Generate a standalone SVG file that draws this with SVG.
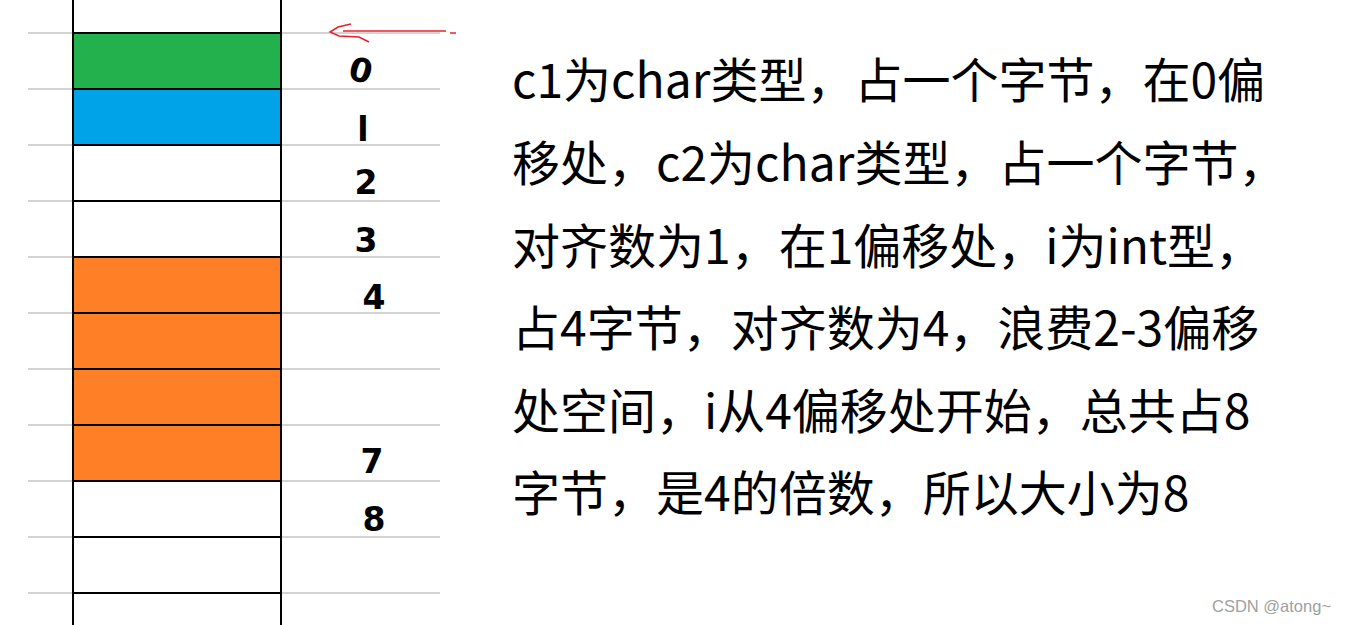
<svg xmlns="http://www.w3.org/2000/svg" width="1359" height="625" viewBox="0 0 1359 625">
<style>
.grid{stroke:#d3d3d3;stroke-width:2}
.cell{stroke:#000;stroke-width:2}
.digit{font-family:"DejaVu Sans",sans-serif;font-weight:bold;font-size:33px;fill:#000;text-anchor:middle}
.txt{font-family:"Microsoft YaHei","Noto Sans CJK SC",sans-serif;font-size:48px;fill:#000}
.wm{font-family:"Liberation Sans",Arial,sans-serif;font-size:16.5px;fill:#a0a0a0}
</style>
<rect width="1359" height="625" fill="#fff"/>
<g id="grid">
<line class="grid" x1="28" y1="33" x2="440" y2="33"/>
<line class="grid" x1="28" y1="89" x2="440" y2="89"/>
<line class="grid" x1="28" y1="145" x2="440" y2="145"/>
<line class="grid" x1="28" y1="201" x2="440" y2="201"/>
<line class="grid" x1="28" y1="257" x2="440" y2="257"/>
<line class="grid" x1="28" y1="313" x2="440" y2="313"/>
<line class="grid" x1="28" y1="369" x2="440" y2="369"/>
<line class="grid" x1="28" y1="425" x2="440" y2="425"/>
<line class="grid" x1="28" y1="481" x2="440" y2="481"/>
<line class="grid" x1="28" y1="537" x2="440" y2="537"/>
<line class="grid" x1="28" y1="593" x2="440" y2="593"/>
</g>
<g id="cells">
<rect id="c1" class="cell" x="73" y="33" width="208" height="56" fill="#22b14c"/>
<rect id="c2" class="cell" x="73" y="89" width="208" height="56" fill="#00a2e8"/>
<rect id="pad2" class="cell" x="73" y="145" width="208" height="56" fill="#fff"/>
<rect id="pad3" class="cell" x="73" y="201" width="208" height="56" fill="#fff"/>
<rect id="i4" class="cell" x="73" y="257" width="208" height="56" fill="#ff7f27"/>
<rect id="i5" class="cell" x="73" y="313" width="208" height="56" fill="#ff7f27"/>
<rect id="i6" class="cell" x="73" y="369" width="208" height="56" fill="#ff7f27"/>
<rect id="i7" class="cell" x="73" y="425" width="208" height="56" fill="#ff7f27"/>
<rect id="e8" class="cell" x="73" y="481" width="208" height="56" fill="#fff"/>
<rect id="e9" class="cell" x="73" y="537" width="208" height="56" fill="#fff"/>
<line class="cell" x1="73" y1="0" x2="73" y2="625"/>
<line class="cell" x1="281" y1="0" x2="281" y2="625"/>
</g>
<g id="connectors">
<line x1="343" y1="31" x2="446" y2="31" stroke="#e8202a" stroke-width="1.5"/>
<line x1="450" y1="33" x2="456" y2="33" stroke="#e8202a" stroke-width="1.5"/>
<polyline points="351,24 338,27 330,32 339,36 359,37 369,42" fill="none" stroke="#e8202a" stroke-width="1.5"/>
</g>
<g id="labels">
<text class="digit" x="361" y="82" transform="rotate(15 361 70)">0</text>
<text class="digit" x="363" y="141">l</text>
<text class="digit" x="366" y="194">2</text>
<text class="digit" x="366" y="252">3</text>
<text class="digit" x="374" y="309">4</text>
<text class="digit" x="372" y="473">7</text>
<text class="digit" x="374" y="531">8</text>
</g>
<g id="description">
<text class="txt" x="512" y="98">c1为char类型，占一个字节，在0偏</text>
<text class="txt" x="512" y="181">移处，c2为char类型，占一个字节，</text>
<text class="txt" x="512" y="264">对齐数为1，在1偏移处，i为int型，</text>
<text class="txt" x="512" y="346">占4字节，对齐数为4，浪费2-3偏移</text>
<text class="txt" x="512" y="429">处空间，i从4偏移处开始，总共占8</text>
<text class="txt" x="512" y="511">字节，是4的倍数，所以大小为8</text>
</g>
<text class="wm" x="1212" y="612">CSDN @atong~</text>
</svg>
